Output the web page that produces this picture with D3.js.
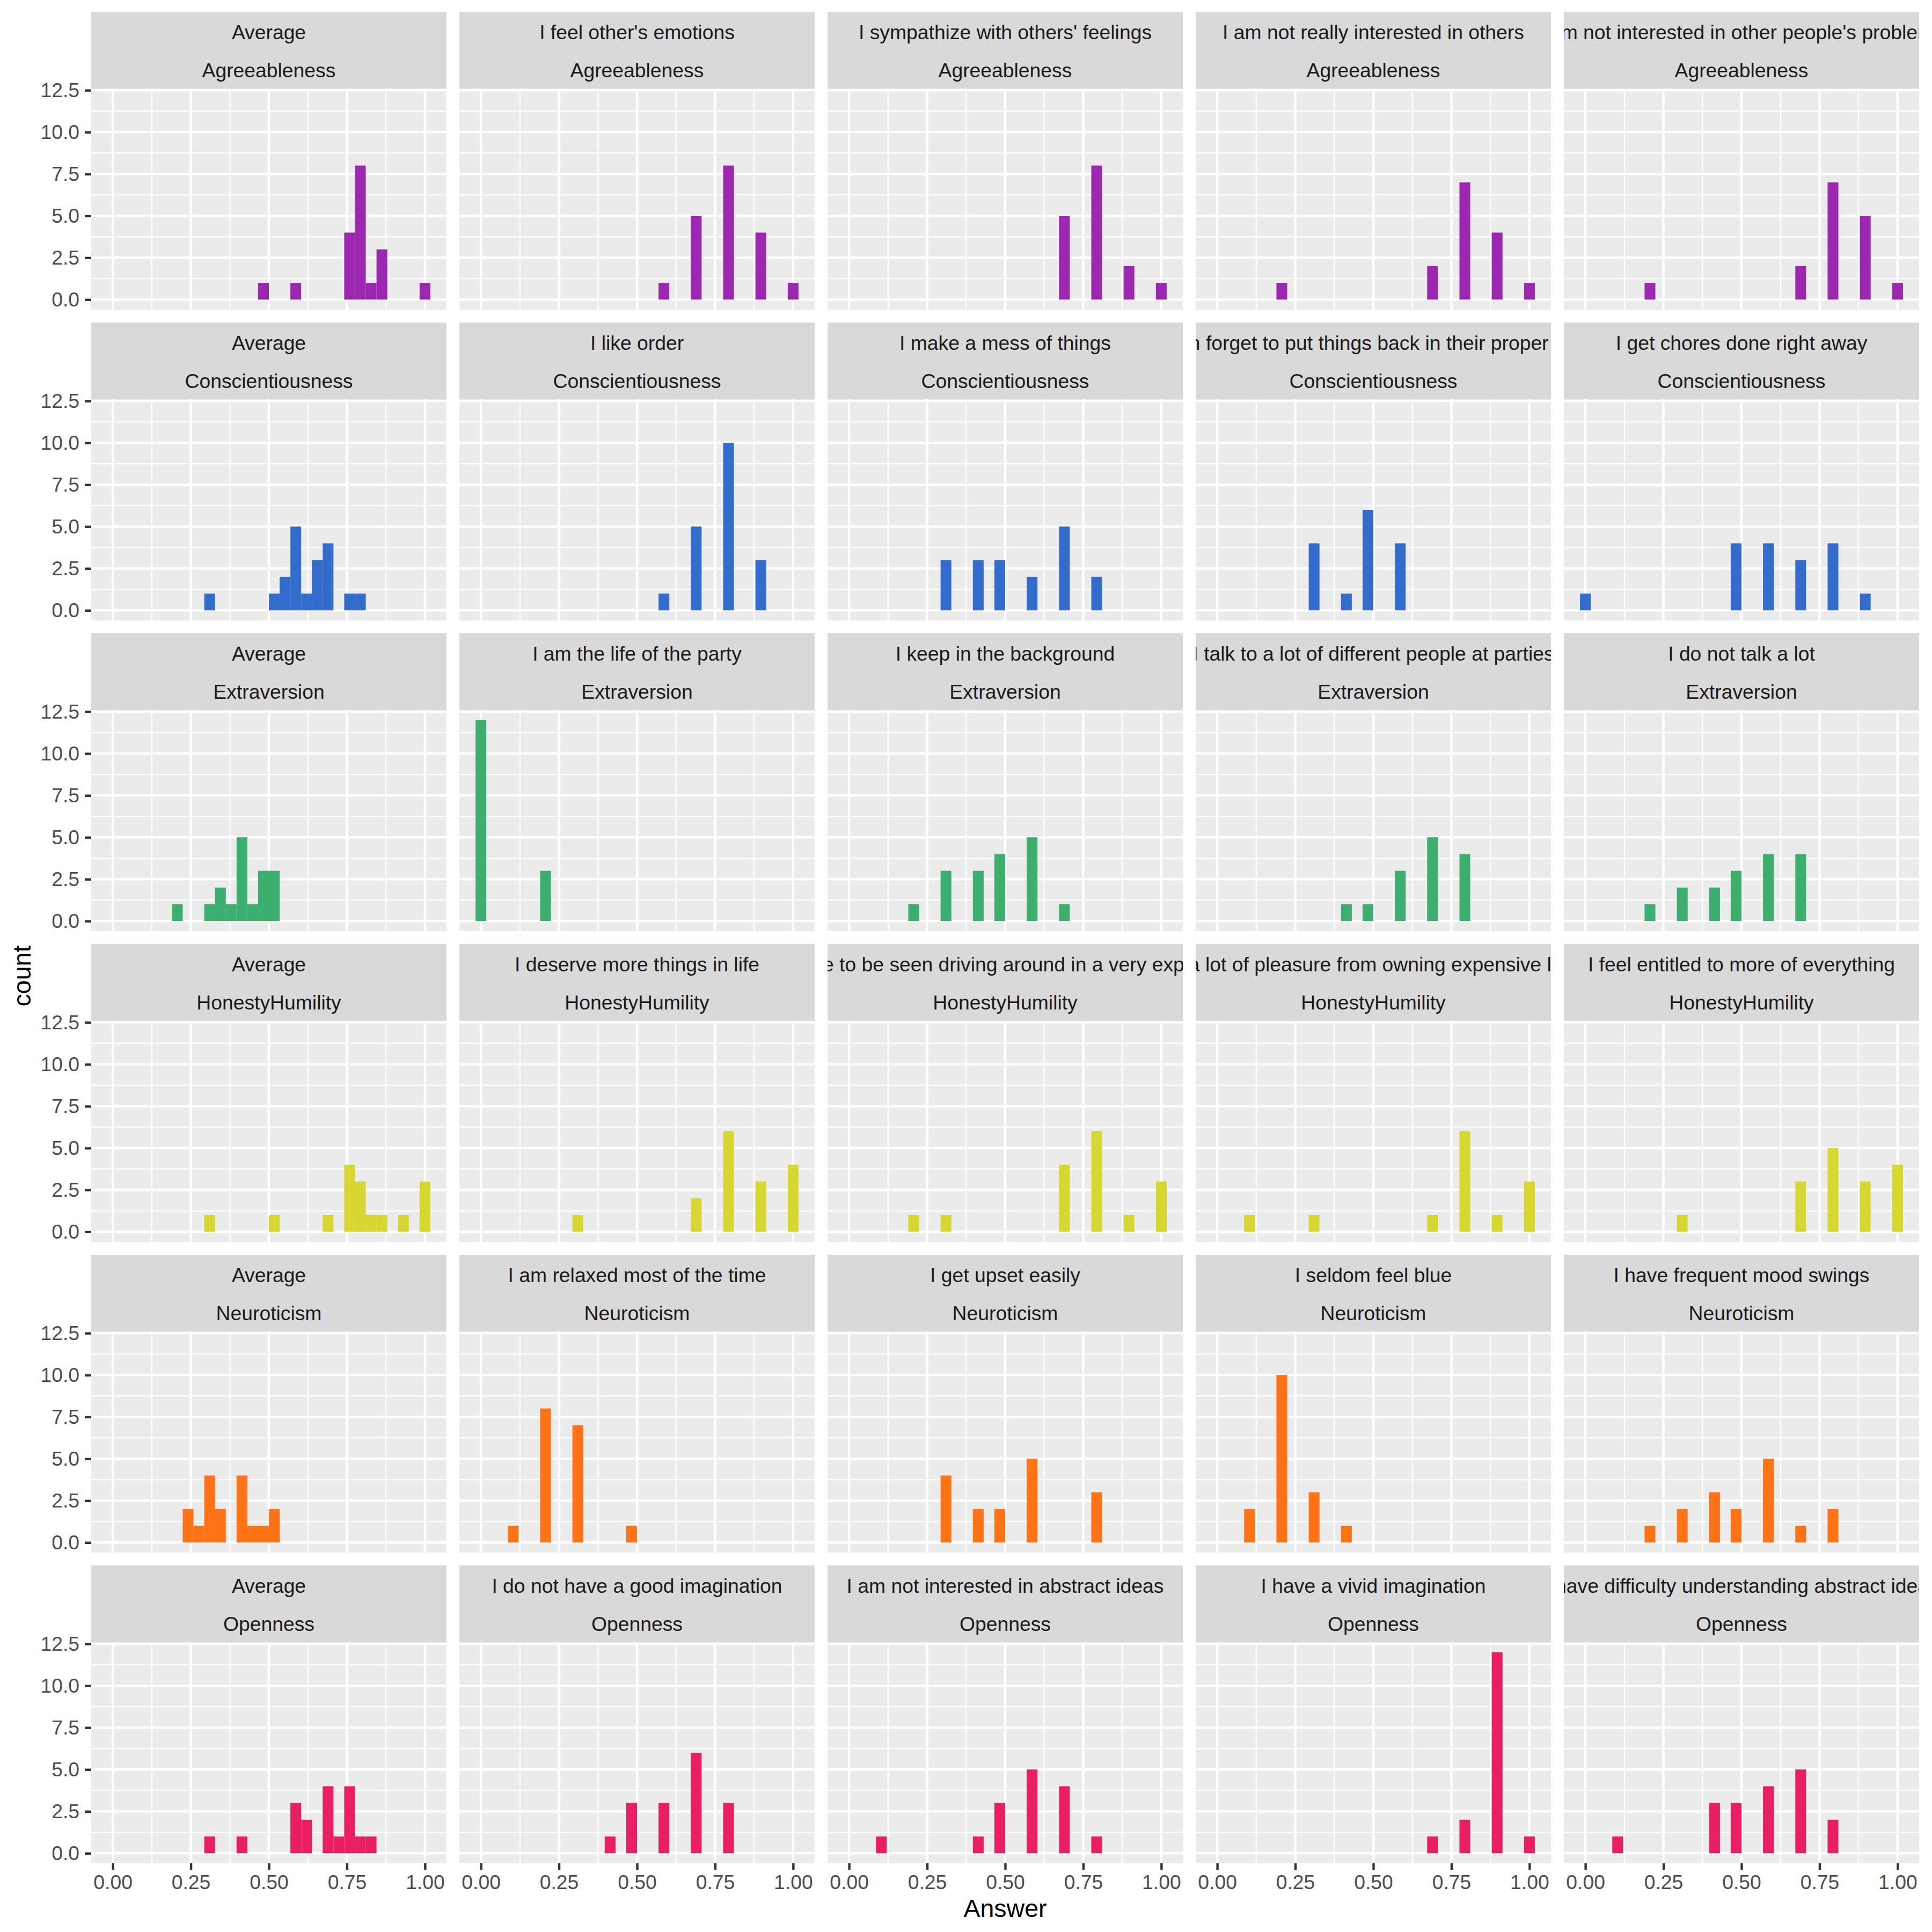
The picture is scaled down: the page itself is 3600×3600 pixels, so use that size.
<!DOCTYPE html>
<html>
<head>
<meta charset="utf-8">
<script src="https://cdn.jsdelivr.net/npm/d3@7"></script>
<style>
  body { margin: 0; background: #fff; }
  svg text { font-family: "Liberation Sans", Arial, sans-serif; }
</style>
</head>
<body>
<div id="chart"></div>
<script>
// facet rows, one per trait; each row: the average panel then four items
const traits = ['Agreeableness', 'Conscientiousness', 'Extraversion', 'HonestyHumility', 'Neuroticism', 'Openness'];
const traitColors = ['#9C27B0', '#336CCC', '#3CAE6E', '#D8D630', '#FF7216', '#E91E63'];

const xTicks = [0, 0.25, 0.5, 0.75, 1];
const yTicks = [0, 2.5, 5, 7.5, 10, 12.5];
const nBins = 30;

const agreeableness = [
  { question: 'Average', answers: [0.48, 0.59, 0.76, 0.79, 0.83, 0.86, 1.0], counts: [1, 1, 4, 8, 1, 3, 1] },
  { question: "I feel other's emotions", answers: [0.6, 0.7, 0.8, 0.9, 1.0], counts: [1, 5, 8, 4, 1] },
  { question: "I sympathize with others' feelings", answers: [0.7, 0.8, 0.9, 1.0], counts: [5, 8, 2, 1] },
  { question: 'I am not really interested in others', answers: [0.2, 0.7, 0.8, 0.9, 1.0], counts: [1, 2, 7, 4, 1] },
  { question: "I am not interested in other people's problems", answers: [0.2, 0.7, 0.8, 0.9, 1.0], counts: [1, 2, 7, 5, 1] },
];

const conscientiousness = [
  { question: 'Average', answers: [0.31, 0.52, 0.55, 0.59, 0.62, 0.66, 0.69, 0.76, 0.79], counts: [1, 1, 2, 5, 1, 3, 4, 1, 1] },
  { question: 'I like order', answers: [0.6, 0.7, 0.8, 0.9], counts: [1, 5, 10, 3] },
  { question: 'I make a mess of things', answers: [0.3, 0.4, 0.5, 0.6, 0.7, 0.8], counts: [3, 3, 3, 2, 5, 2] },
  { question: 'I often forget to put things back in their proper place', answers: [0.3, 0.4, 0.5, 0.6], counts: [4, 1, 6, 4] },
  { question: 'I get chores done right away', answers: [0, 0.5, 0.6, 0.7, 0.8, 0.9], counts: [1, 4, 4, 3, 4, 1] },
];

const extraversion = [
  { question: 'Average', answers: [0.21, 0.31, 0.34, 0.38, 0.41, 0.45, 0.48, 0.52], counts: [1, 1, 2, 1, 5, 1, 3, 3] },
  { question: 'I am the life of the party', answers: [0, 0.2], counts: [12, 3] },
  { question: 'I keep in the background', answers: [0.2, 0.3, 0.4, 0.5, 0.6, 0.7], counts: [1, 3, 3, 4, 5, 1] },
  { question: 'I talk to a lot of different people at parties', answers: [0.4, 0.5, 0.6, 0.7, 0.8], counts: [1, 1, 3, 5, 4] },
  { question: 'I do not talk a lot', answers: [0.2, 0.3, 0.4, 0.5, 0.6, 0.7], counts: [1, 2, 2, 3, 4, 4] },
];

const honestyHumility = [
  { question: 'Average', answers: [0.31, 0.52, 0.69, 0.76, 0.79, 0.83, 0.86, 0.93, 1.0], counts: [1, 1, 1, 4, 3, 1, 1, 1, 3] },
  { question: 'I deserve more things in life', answers: [0.3, 0.7, 0.8, 0.9, 1.0], counts: [1, 2, 6, 3, 4] },
  { question: 'I would like to be seen driving around in a very expensive car', answers: [0.2, 0.3, 0.7, 0.8, 0.9, 1.0], counts: [1, 1, 4, 6, 1, 3] },
  { question: 'I would get a lot of pleasure from owning expensive luxury goods', answers: [0.1, 0.3, 0.7, 0.8, 0.9, 1.0], counts: [1, 1, 1, 6, 1, 3] },
  { question: 'I feel entitled to more of everything', answers: [0.3, 0.7, 0.8, 0.9, 1.0], counts: [1, 3, 5, 3, 4] },
];

const neuroticism = [
  { question: 'Average', answers: [0.24, 0.28, 0.31, 0.34, 0.41, 0.45, 0.48, 0.52], counts: [2, 1, 4, 2, 4, 1, 1, 2] },
  { question: 'I am relaxed most of the time', answers: [0.1, 0.2, 0.3, 0.5], counts: [1, 8, 7, 1] },
  { question: 'I get upset easily', answers: [0.3, 0.4, 0.5, 0.6, 0.8], counts: [4, 2, 2, 5, 3] },
  { question: 'I seldom feel blue', answers: [0.1, 0.2, 0.3, 0.4], counts: [2, 10, 3, 1] },
  { question: 'I have frequent mood swings', answers: [0.2, 0.3, 0.4, 0.5, 0.6, 0.7, 0.8], counts: [1, 2, 3, 2, 5, 1, 2] },
];

const openness = [
  { question: 'Average', answers: [0.31, 0.41, 0.59, 0.62, 0.69, 0.72, 0.76, 0.79, 0.83], counts: [1, 1, 3, 2, 4, 1, 4, 1, 1] },
  { question: 'I do not have a good imagination', answers: [0.4, 0.5, 0.6, 0.7, 0.8], counts: [1, 3, 3, 6, 3] },
  { question: 'I am not interested in abstract ideas', answers: [0.1, 0.4, 0.5, 0.6, 0.7, 0.8], counts: [1, 1, 3, 5, 4, 1] },
  { question: 'I have a vivid imagination', answers: [0.7, 0.8, 0.9, 1.0], counts: [1, 2, 12, 1] },
  { question: 'I have difficulty understanding abstract ideas', answers: [0.1, 0.4, 0.5, 0.6, 0.7, 0.8], counts: [1, 3, 3, 4, 5, 2] },
];

const rows = [agreeableness, conscientiousness, extraversion, honestyHumility, neuroticism, openness];

// layout (px at 3600 wide)
const W = 3600, H = 3600;
const LEFT = 170, TOP = 22;
const PANEL_W = 662, PANEL_H = 412, STRIP_H = 143, GAP = 24;
const FS = 37.3, TITLE_FS = 46.5;
const MAJOR = 4.4, MINOR = 2.2;

// ggplot-style bins: 30 bins of width 1/29 centred on 0..1
const bw = 1 / (nBins - 1);
const lo = -bw / 2, hi = 1 + bw / 2;
const thresholds = d3.range(nBins - 1).map((k) => lo + (k + 1) * bw);
const binner = d3.bin().domain([lo, hi]).thresholds(thresholds)
  .value((d) => d - 1e-9); // ggplot bins are closed on the right

const binned = rows.map((row) => row.map((p) =>
  binner(d3.merge(p.answers.map((a, i) => Array(p.counts[i]).fill(a))))));
const maxCount = d3.max(binned, (row) => d3.max(row, (bins) => d3.max(bins, (b) => b.length)));

const xPad = (hi - lo) * 0.05;
const x = d3.scaleLinear().domain([lo - xPad, hi + xPad]).range([0, PANEL_W]);
const y = d3.scaleLinear().domain([-maxCount * 0.05, maxCount * 1.05]).range([PANEL_H, 0]);

const mids = (t) => d3.pairs(t).map(([a, b]) => (a + b) / 2);
const xMinor = mids(xTicks);
const yMinor = mids(yTicks);

const svg = d3.select('#chart').append('svg')
  .attr('width', W).attr('height', H)
  .attr('viewBox', `0 0 ${W} ${H}`);
svg.append('rect').attr('width', W).attr('height', H).attr('fill', '#fff');

const defs = svg.append('defs');

rows.forEach((row, r) => {
  row.forEach((p, c) => {
    const px = LEFT + c * (PANEL_W + GAP);
    const py = TOP + r * (STRIP_H + PANEL_H + GAP);
    const cell = svg.append('g').attr('transform', `translate(${px},${py})`);

    // strip, text clipped to the strip like ggplot does
    const clipId = `strip-${r}-${c}`;
    defs.append('clipPath').attr('id', clipId)
      .append('rect').attr('width', PANEL_W).attr('height', STRIP_H);
    cell.append('rect').attr('width', PANEL_W).attr('height', STRIP_H).attr('fill', '#D9D9D9');
    const st = cell.append('g').attr('clip-path', `url(#${clipId})`);
    [p.question, traits[r]].forEach((label, i) => {
      st.append('text')
        .attr('x', PANEL_W / 2)
        .attr('y', STRIP_H / 4 + i * STRIP_H / 2 + FS * 0.4)
        .attr('text-anchor', 'middle')
        .attr('font-size', FS).attr('fill', '#1A1A1A')
        .text(label);
    });

    // panel
    const g = cell.append('g').attr('transform', `translate(0,${STRIP_H})`);
    g.append('rect').attr('width', PANEL_W).attr('height', PANEL_H).attr('fill', '#EBEBEB');

    g.selectAll('.vminor').data(xMinor).join('line')
      .attr('x1', (d) => x(d)).attr('x2', (d) => x(d)).attr('y1', 0).attr('y2', PANEL_H)
      .attr('stroke', '#fff').attr('stroke-width', MINOR);
    g.selectAll('.hminor').data(yMinor).join('line')
      .attr('y1', (d) => y(d)).attr('y2', (d) => y(d)).attr('x1', 0).attr('x2', PANEL_W)
      .attr('stroke', '#fff').attr('stroke-width', MINOR);
    g.selectAll('.vmajor').data(xTicks).join('line')
      .attr('x1', (d) => x(d)).attr('x2', (d) => x(d)).attr('y1', 0).attr('y2', PANEL_H)
      .attr('stroke', '#fff').attr('stroke-width', MAJOR);
    g.selectAll('.hmajor').data(yTicks).join('line')
      .attr('y1', (d) => y(d)).attr('y2', (d) => y(d)).attr('x1', 0).attr('x2', PANEL_W)
      .attr('stroke', '#fff').attr('stroke-width', MAJOR);

    g.selectAll('.bar').data(binned[r][c].filter((b) => b.length > 0)).join('rect')
      .attr('x', (b) => x(b.x0))
      .attr('width', (b) => x(b.x1) - x(b.x0))
      .attr('y', (b) => y(b.length))
      .attr('height', (b) => y(0) - y(b.length))
      .attr('fill', traitColors[r]);

    if (c === 0) {
      const ax = g.append('g')
        .call(d3.axisLeft(y).tickValues(yTicks).tickFormat(d3.format('.1f')).tickSize(12).tickPadding(10));
      styleAxis(ax);
    }
    if (r === rows.length - 1) {
      const ax = g.append('g').attr('transform', `translate(0,${PANEL_H})`)
        .call(d3.axisBottom(x).tickValues(xTicks).tickFormat(d3.format('.2f')).tickSize(12).tickPadding(10));
      styleAxis(ax);
    }
  });
});

function styleAxis(ax) {
  ax.select('.domain').remove();
  ax.selectAll('.tick line').attr('stroke', '#333333').attr('stroke-width', MAJOR);
  ax.selectAll('.tick text').attr('fill', '#4D4D4D').attr('font-size', FS)
    .attr('font-family', '"Liberation Sans", Arial, sans-serif');
}

const firstPanelTop = TOP + STRIP_H;
const lastPanelBottom = TOP + (rows.length - 1) * (STRIP_H + PANEL_H + GAP) + STRIP_H + PANEL_H;
const panelsRight = LEFT + 5 * PANEL_W + 4 * GAP;

svg.append('text')
  .attr('x', (LEFT + panelsRight) / 2).attr('y', lastPanelBottom + 100)
  .attr('text-anchor', 'middle').attr('font-size', TITLE_FS).attr('fill', '#000')
  .text('Answer');

svg.append('text')
  .attr('transform', `translate(57,${(firstPanelTop + lastPanelBottom) / 2}) rotate(-90)`)
  .attr('text-anchor', 'middle').attr('font-size', TITLE_FS).attr('fill', '#000')
  .text('count');
</script>
</body>
</html>
